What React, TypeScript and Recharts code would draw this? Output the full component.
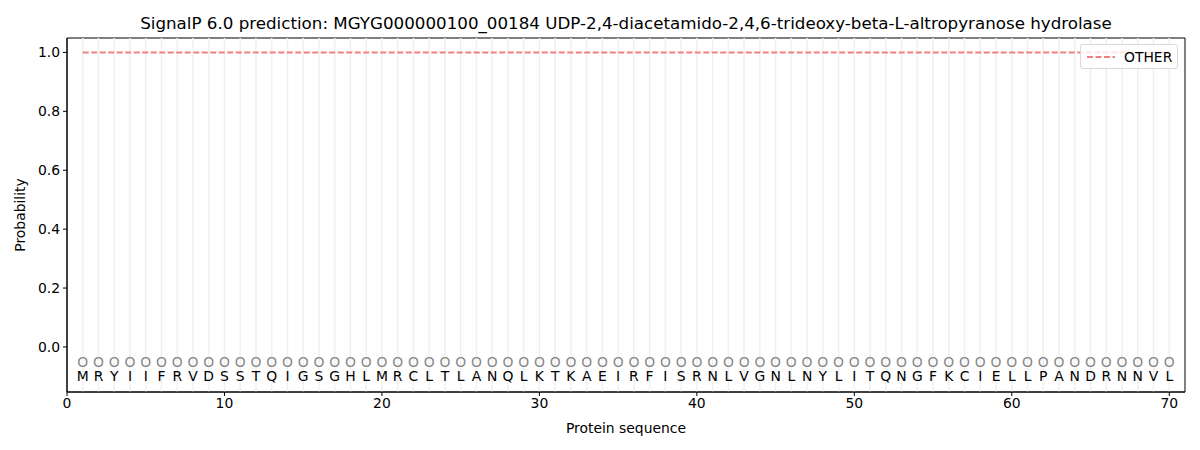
import React from 'react'
import {
  ComposedChart,
  Line,
  Scatter,
  XAxis,
  YAxis,
  ReferenceLine,
  ReferenceArea,
} from 'recharts'

const title =
  'SignalP 6.0 prediction: MGYG000000100_00184 UDP-2,4-diacetamido-2,4,6-trideoxy-beta-L-altropyranose hydrolase'

const sequence = 'MRYIIFRVDSSTQIGSGHLMRCLTLANQLKTKAEIRFISRNLVGNLNYLITQNGFKCIELLPANDRNNVL'.split('')
const predicted = sequence.map(() => 'O')
const otherProb = sequence.map(() => 1.0)

const xTicks = [0, 10, 20, 30, 40, 50, 60, 70]
const yTicks = [0, 0.2, 0.4, 0.6, 0.8, 1.0]
const xDomain = [0, 71]
const yDomain = [-0.153, 1.049]

const positions = sequence.map((_, i) => i + 1)

const lineData = positions.map((pos, i) => ({ pos, other: otherProb[i] }))
const labelData = positions.map((pos, i) => ({ pos, y: -0.05, text: predicted[i] }))
const residueData = positions.map((pos, i) => ({ pos, y: -0.1, text: sequence[i] }))

const FONT = 'DejaVu Sans, sans-serif'
const TICK_SIZE = 13.9

const LabelShape = (color: string, size: number) => (props: any) => {
  const { cx, cy, payload } = props
  return (
    <text
      x={cx}
      y={cy}
      textAnchor="middle"
      dominantBaseline="central"
      fontSize={size}
      fontFamily={FONT}
      fill={color}
    >
      {payload.text}
    </text>
  )
}

export default function App() {
  return (
    <div style={{ position: 'absolute', left: 0, top: 0, width: 1200, height: 450, background: '#fff' }}>
      <div
        style={{
          position: 'absolute',
          top: 13,
          left: 0,
          width: 1252,
          textAlign: 'center',
          fontFamily: FONT,
          fontSize: 16.7,
          color: '#000',
        }}
      >
        {title}
      </div>
      <ComposedChart
        width={1200}
        height={450}
        data={lineData}
        margin={{ top: 38, right: 15, left: 0, bottom: 0 }}
      >
        <XAxis
          type="number"
          dataKey="pos"
          domain={xDomain}
          ticks={xTicks}
          allowDataOverflow
          height={58}
          stroke="#000"
          tick={{ fill: '#000', fontSize: TICK_SIZE, fontFamily: FONT }}
          tickSize={4}
          tickMargin={2}
          label={{
            value: 'Protein sequence',
            position: 'insideBottom',
            offset: 17,
            style: { fill: '#000', fontSize: TICK_SIZE, fontFamily: FONT },
          }}
        />
        <YAxis
          type="number"
          domain={yDomain}
          ticks={yTicks}
          allowDataOverflow
          width={67}
          stroke="#000"
          tick={{ fill: '#000', fontSize: TICK_SIZE, fontFamily: FONT }}
          tickFormatter={(v: number) => v.toFixed(1)}
          tickSize={4}
          tickMargin={3}
          label={{
            value: 'Probability',
            angle: -90,
            position: 'insideLeft',
            offset: 20,
            style: { fill: '#000', fontSize: TICK_SIZE, fontFamily: FONT, textAnchor: 'middle' },
          }}
        />
        {positions.map((p) => (
          <ReferenceLine key={p} x={p} stroke="#f0f0f0" strokeWidth={1.5} />
        ))}
        <ReferenceArea
          x1={xDomain[0]}
          x2={xDomain[1]}
          y1={yDomain[0]}
          y2={yDomain[1]}
          fill="none"
          stroke="#000"
          strokeWidth={1}
          ifOverflow="visible"
        />
        <Line
          dataKey="other"
          stroke="#f08080"
          strokeWidth={2}
          strokeDasharray="6 2.5"
          dot={false}
          activeDot={false}
          isAnimationActive={false}
          name="OTHER"
        />
        <Scatter
          data={labelData}
          dataKey="y"
          shape={LabelShape('#888', 13.9)}
          isAnimationActive={false}
          legendType="none"
        />
        <Scatter
          data={residueData}
          dataKey="y"
          shape={LabelShape('#000', 13.9)}
          isAnimationActive={false}
          legendType="none"
        />
      </ComposedChart>
      <div
        style={{
          position: 'absolute',
          top: 44,
          left: 1080,
          width: 98,
          height: 25,
          boxSizing: 'border-box',
          border: '1px solid #d9d9d9',
          borderRadius: 3,
          background: 'rgba(255,255,255,0.8)',
          display: 'flex',
          alignItems: 'center',
          paddingLeft: 5,
          fontFamily: FONT,
          fontSize: TICK_SIZE,
          color: '#000',
        }}
      >
        <svg width={30} height={10} style={{ marginRight: 8 }}>
          <line x1={1} y1={5} x2={29} y2={5} stroke="#f08080" strokeWidth={2} strokeDasharray="6 2.5" />
        </svg>
        OTHER
      </div>
    </div>
  )
}
